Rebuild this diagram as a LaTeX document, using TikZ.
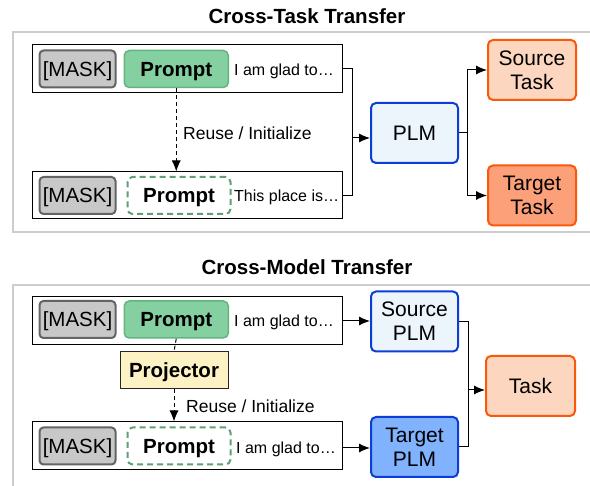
\documentclass[tikz,border=0pt]{standalone}
\usepackage{fontspec}
\setmainfont{Liberation Sans}
\usetikzlibrary{arrows.meta, positioning, calc}
\definecolor{panelcolor}{RGB}{205,205,205}
\definecolor{maskfill}{RGB}{200,200,200}
\definecolor{maskdraw}{RGB}{100,100,100}
\definecolor{promptfill}{RGB}{132,208,160}
\definecolor{promptdraw}{RGB}{100,180,128}
\definecolor{promptdash}{RGB}{96,158,116}
\definecolor{plmfill}{RGB}{236,244,252}
\definecolor{plmdraw}{RGB}{12,62,215}
\definecolor{tplmfill}{RGB}{128,178,253}
\definecolor{taskfill}{RGB}{253,214,191}
\definecolor{tasktarget}{RGB}{252,160,122}
\definecolor{taskdraw}{RGB}{252,88,10}
\definecolor{projfill}{RGB}{252,242,196}
\tikzstyle{panel} = [draw=panelcolor, line width=1.5pt]
\tikzstyle{titletext} = [font=\fontsize{20.5}{24}\selectfont\bfseries]
\tikzstyle{sentence} = [
    rectangle,
    minimum width=310pt,
    minimum height=48pt,
    draw=black,
    line width=1pt
]
\tikzstyle{maskbox} = [
    rectangle,
    rounded corners=4pt,
    minimum width=76pt,
    minimum height=37pt,
    inner sep=0pt,
    text depth=0pt,
    draw=maskdraw,
    fill=maskfill,
    line width=2pt,
    font=\fontsize{20.5}{24}\selectfont
]
\tikzstyle{promptbox} = [
    rectangle,
    rounded corners=5pt,
    minimum width=104pt,
    minimum height=37pt,
    inner sep=0pt,
    text depth=0pt,
    line width=1.5pt,
    font=\fontsize{20.5}{24}\selectfont\bfseries
]
\tikzstyle{wordtext} = [anchor=west, inner sep=0pt, font=\fontsize{16}{19}\selectfont]
\tikzstyle{modelbox} = [
    rectangle,
    rounded corners=5pt,
    minimum width=87pt,
    minimum height=60pt,
    align=center,
    draw=plmdraw,
    line width=2pt,
    font=\fontsize{21}{24}\selectfont
]
\tikzstyle{taskbox} = [
    rectangle,
    rounded corners=5pt,
    minimum width=88pt,
    minimum height=60pt,
    align=center,
    draw=taskdraw,
    line width=2pt,
    font=\fontsize{21}{24}\selectfont
]
\tikzstyle{arrow} = [
    -{Latex[length=11pt, width=9pt]},
    line width=1pt,
    color=black
]
\tikzstyle{dasharrow} = [
    arrow,
    dash pattern=on 4pt off 3pt
]
\tikzstyle{reuselabel} = [anchor=west, inner sep=0pt, font=\fontsize{17.5}{20}\selectfont]

\begin{document}
\begin{tikzpicture}[x=1pt, y=-1pt]

\clip (0,0) rectangle (590,486);
\fill[white] (0,0) rectangle (590,486);

% Panel 1: Cross-Task Transfer
\node[titletext] (title1) at (307,16) {Cross-Task Transfer};
\draw[panel] (13,32) rectangle (600,232);

% source sentence
\node[sentence] (sent1) at (187,69) {};
\node[maskbox, anchor=west] (mask1) at ([xshift=7pt]sent1.west) {[MASK]};
\node[promptbox, fill=promptfill, draw=promptdraw, right=7pt of mask1] (prompt1) {Prompt};
\node[wordtext] (words1) at (234,71) {I am glad to…};

% target sentence
\node[sentence, minimum height=47pt] (sent2) at (187,195.5) {};
\node[maskbox, anchor=west] (mask2) at ([xshift=7pt]sent2.west) {[MASK]};
\node[promptbox, draw=promptdash, line width=2pt, dash pattern=on 6pt off 4pt, right=10pt of mask2, minimum width=103pt] (prompt2) {Prompt};
\node[wordtext] (words2) at (234,197) {This place is…};

% reuse arrow
\draw[dasharrow] (prompt1.south) -- (prompt1.south |- sent2.north);
\node[reuselabel] (reuse1) at (183,133) {Reuse / Initialize};

% PLM and tasks
\node[modelbox, fill=plmfill] (plm) at (414.5,133) {PLM};
\node[taskbox, fill=taskfill] (srctask) at (532,70) {Source\\Task};
\node[taskbox, fill=tasktarget] (tgttask) at (532,195.5) {Target\\Task};

\draw[line width=1pt] (sent1.east) -- ++(10,0) coordinate (join1) |- (sent2.east);
\draw[arrow] ([yshift=-5pt]plm.west -| join1) -- ([yshift=-5pt]plm.west);
\draw[line width=1pt] (plm.east) -- ++(8,0) coordinate (split1);
\draw[arrow] (split1) |- (srctask.west);
\draw[arrow] (split1) |- (tgttask.west);

% Panel 2: Cross-Model Transfer
\node[titletext] (title2) at (307,267) {Cross-Model Transfer};
\draw[panel] (13,285) rectangle (600,500);

% source sentence
\node[sentence] (sent3) at (187,321) {};
\node[maskbox, anchor=west] (mask3) at ([xshift=7pt, yshift=1.5pt]sent3.west) {[MASK]};
\node[promptbox, fill=promptfill, draw=promptdraw, right=7pt of mask3] (prompt3) {Prompt};
\node[wordtext] (words3) at (234,322) {I am glad to…};

% target sentence
\node[sentence] (sent4) at (187,446) {};
\node[maskbox, anchor=west] (mask4) at ([xshift=7pt]sent4.west) {[MASK]};
\node[promptbox, draw=promptdash, line width=2pt, dash pattern=on 6pt off 4pt, right=10pt of mask4, minimum width=103pt] (prompt4) {Prompt};
\node[wordtext] (words4) at (236,449) {I am glad to…};

% projector
\node[rectangle, draw=black!85, line width=1pt, fill=projfill, minimum width=108pt, minimum height=37pt,
      text depth=0pt, font=\fontsize{20.5}{24}\selectfont\bfseries] (projector) at (174,370.5) {Projector};
\draw[line width=1pt, dash pattern=on 4pt off 3pt] (prompt3.south) -- (projector.north);
\draw[dasharrow] (projector.south) -- (projector.south |- sent4.north);
\node[reuselabel, fill=white, fill opacity=0.7, text opacity=1, inner ysep=6pt] (reuse2) at (186,406) {Reuse / Initialize};

% PLMs and task
\node[modelbox, fill=plmfill] (srcplm) at (414.5,321.5) {Source\\PLM};
\node[modelbox, fill=tplmfill] (tgtplm) at (414.5,447) {Target\\PLM};
\node[taskbox, fill=taskfill, minimum width=89pt] (task) at (530.5,386) {Task};

\draw[arrow] (sent3.east) -- (sent3.east -| srcplm.west);
\draw[arrow] ([yshift=-2pt]sent4.east) -- ([yshift=-2pt]sent4.east -| tgtplm.west);
\draw[line width=1pt] (srcplm.east) -- ++(9,0) coordinate (join2) |- (tgtplm.east);
\draw[arrow] ([yshift=-4pt]task.west -| join2) -- ([yshift=-4pt]task.west);

\end{tikzpicture}
\end{document}
